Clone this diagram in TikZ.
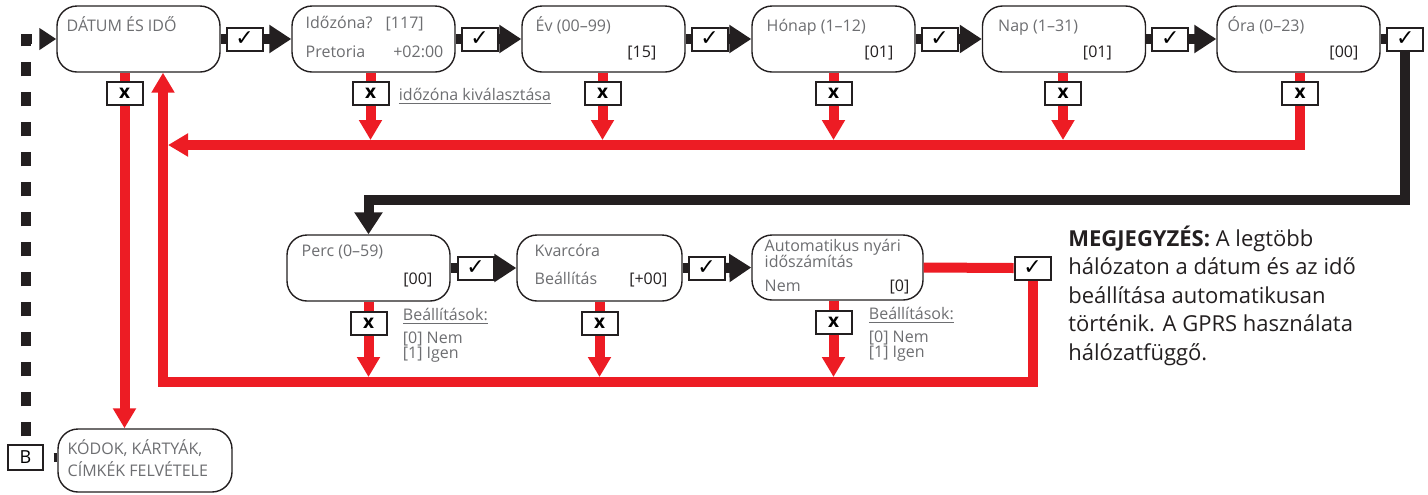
\documentclass[tikz,border=0pt]{standalone}
\usepackage{fontspec}
\setmainfont{Open Sans}
\newfontfamily\checkfont{DejaVu Sans}
\usetikzlibrary{shapes}
\usetikzlibrary{arrows.meta}
\usetikzlibrary{calc}
\definecolor{flow red}{HTML}{ED1C24}
\definecolor{flow black}{HTML}{231F20}
\definecolor{label gray}{HTML}{6D6E71}
\tikzset{
  menu box/.style = {draw = flow black, line width = 0.7pt, rounded corners = 10pt,
    fill = white, minimum width = 81.5pt, minimum height = 33pt, inner sep = 0pt},
  title text/.style = {anchor = base west, inner sep = 0pt, text = label gray,
    font = \fontsize{8}{9}\selectfont},
  value text/.style = {anchor = base east, inner sep = 0pt, text = flow black,
    font = \fontsize{8}{9}\selectfont},
  key box/.style = {draw = flow black, line width = 1pt, fill = white,
    minimum width = 18pt, minimum height = 11.5pt, inner sep = 0pt},
  ok box/.style = {key box, font = \checkfont\fontsize{11}{11}\selectfont},
  no box/.style = {key box, font = \bfseries\fontsize{9.5}{9.5}\selectfont},
  black line/.style = {draw = flow black, line width = 5pt},
  red line/.style = {draw = flow red, line width = 5pt},
  black arrow/.style = {black line, -{Triangle[width = 13.5pt, length = 11pt]}},
  red arrow/.style = {red line, -{Triangle[width = 11pt, length = 10pt]}},
}

\begin{document}
\begin{tikzpicture}[x = 0.5pt, y = -0.5pt]
  \useasboundingbox (0, 0) rectangle (1428, 494);

  % menu boxes
  \node[menu box] (datum) at (138.5, 39) {};
  \node[menu box] (idozona) at (373.5, 39) {};
  \node[menu box] (ev) at (603.5, 39) {};
  \node[menu box] (honap) at (833.5, 39) {};
  \node[menu box] (nap) at (1064, 39) {};
  \node[menu box] (ora) at (1298.5, 39) {};
  \node[menu box] (perc) at (368.5, 268) {};
  \node[menu box, minimum width = 82.5pt] (kvarc) at (599.5, 268) {};
  \node[menu box, minimum width = 85.5pt, minimum height = 32.5pt] (nyari) at (837.5, 267.5) {};
  \node[menu box, minimum width = 87pt, minimum height = 31.5pt] (kodok) at (145, 460.5) {};
  \node[key box, minimum width = 17.5pt, minimum height = 12.5pt, line width = 0.7pt,
    font = \fontsize{9}{9}\selectfont] (b-box) at (25.5, 457.5) {B};

  % texts in the boxes
  \node[title text] (datum-t) at ($(datum.north west) + (10, 26)$) {DÁTUM ÉS IDŐ};
  \node[title text] (idozona-t) at ($(idozona.north west) + (14, 23)$) {Időzóna?};
  \node[title text] (idozona-k) at ($(idozona.north west) + (94, 23)$) {[117]};
  \node[title text] (idozona-v) at ($(idozona.north west) + (14, 52)$) {Pretoria};
  \node[title text, anchor = base east] (idozona-o) at ($(idozona.north east) + (-12, 52)$) {+02:00};
  \node[title text] (ev-t) at ($(ev.north west) + (14, 26)$) {Év (00–99)};
  \node[value text] (ev-v) at ($(ev.north east) + (-29, 52)$) {[15]};
  \node[title text] (honap-t) at ($(honap.north west) + (15, 26)$) {Hónap (1–12)};
  \node[value text] (honap-v) at ($(honap.north east) + (-22, 52)$) {[01]};
  \node[title text] (nap-t) at ($(nap.north west) + (16, 26)$) {Nap (1–31)};
  \node[value text] (nap-v) at ($(nap.north east) + (-34, 52)$) {[01]};
  \node[title text] (ora-t) at ($(ora.north west) + (11, 26)$) {Óra (0–23)};
  \node[value text] (ora-v) at ($(ora.north east) + (-22, 52)$) {[00]};
  \node[title text] (perc-t) at ($(perc.north west) + (15, 22)$) {Perc (0–59)};
  \node[value text] (perc-v) at ($(perc.north east) + (-18, 50)$) {[00]};
  \node[title text] (kvarc-t) at ($(kvarc.north west) + (18, 22)$) {Kvarcóra};
  \node[title text] (kvarc-b) at ($(kvarc.north west) + (18, 50)$) {Beállítás};
  \node[value text] (kvarc-v) at ($(kvarc.north east) + (-15, 50)$) {[+00]};
  \node[title text] (nyari-t) at ($(nyari.north west) + (13, 17)$) {Automatikus nyári};
  \node[title text] (nyari-s) at ($(nyari.north west) + (13, 33)$) {időszámítás};
  \node[title text] (nyari-n) at ($(nyari.north west) + (13, 57)$) {Nem};
  \node[value text] (nyari-v) at ($(nyari.north east) + (-14, 57)$) {[0]};
  \node[title text] (kodok-t) at ($(kodok.north west) + (10, 26)$) {KÓDOK, KÁRTYÁK,};
  \node[title text] (kodok-s) at ($(kodok.north west) + (10, 48)$) {CÍMKÉK FELVÉTELE};

  % check and cross keys
  \node[ok box] (datum-ok) at ($(datum.east) + (24, 0)$) {✓};
  \node[ok box] (idozona-ok) at ($(idozona.east) + (24, 0)$) {✓};
  \node[ok box] (ev-ok) at ($(ev.east) + (24, 0)$) {✓};
  \node[ok box] (honap-ok) at ($(honap.east) + (24, 0)$) {✓};
  \node[ok box] (nap-ok) at ($(nap.east) + (24, 0)$) {✓};
  \node[ok box] (ora-ok) at ($(ora.east) + (24.5, 0)$) {✓};
  \node[ok box] (perc-ok) at ($(perc.east) + (25, 0)$) {✓};
  \node[ok box] (kvarc-ok) at ($(kvarc.east) + (24, 0)$) {✓};
  \node[ok box] (nyari-ok) at ($(nyari.east) + (109, 0.5)$) {✓};
  \node[no box] (datum-no) at ($(datum.south) + (-14, 20.5)$) {x};
  \node[no box] (idozona-no) at ($(idozona.south) + (-3, 20.5)$) {x};
  \node[no box] (ev-no) at ($(ev.south) + (-1, 20.5)$) {x};
  \node[no box] (honap-no) at ($(honap.south) + (0, 20.5)$) {x};
  \node[no box] (nap-no) at ($(nap.south) + (-1, 20.5)$) {x};
  \node[no box] (ora-no) at ($(ora.south) + (1.5, 20.5)$) {x};
  \node[no box] (perc-no) at ($(perc.south) + (0, 22)$) {x};
  \node[no box] (kvarc-no) at ($(kvarc.south) + (0, 22)$) {x};
  \node[no box] (nyari-no) at ($(nyari.south) + (-4, 22)$) {x};

  \coordinate (top-hit) at (0, 140);
  \coordinate (top-back) at (168, 145);
  \coordinate (bottom-hit) at (0, 377);
  \coordinate (bottom-back) at (163, 382);
  \coordinate (wrap) at (0, 200);

  % red paths
  \draw[red arrow] (ora-no.south) |- (top-back);
  \draw[red line] (ora.south -| ora-no) -- (ora-no.north);
  \draw[red line] (idozona.south -| idozona-no) -- (idozona-no.north);
  \draw[red arrow] (idozona-no.south) -- (idozona-no.south |- top-hit);
  \draw[red line] (ev.south -| ev-no) -- (ev-no.north);
  \draw[red arrow] (ev-no.south) -- (ev-no.south |- top-hit);
  \draw[red line] (honap.south -| honap-no) -- (honap-no.north);
  \draw[red arrow] (honap-no.south) -- (honap-no.south |- top-hit);
  \draw[red line] (nap.south -| nap-no) -- (nap-no.north);
  \draw[red arrow] (nap-no.south) -- (nap-no.south |- top-hit);
  \draw[red line] (datum.south -| datum-no) -- (datum-no.north);
  \draw[red arrow] (datum-no.south) -- (datum-no.south |- kodok.north);
  \draw[red line] (nyari.east) -- (nyari-ok.west);
  \draw[red arrow] (nyari-ok.south) |- (bottom-back) -- (datum.south -| bottom-back);
  \draw[red line] (perc.south -| perc-no) -- (perc-no.north);
  \draw[red arrow] (perc-no.south) -- (perc-no.south |- bottom-hit);
  \draw[red line] (kvarc.south -| kvarc-no) -- (kvarc-no.north);
  \draw[red arrow] (kvarc-no.south) -- (kvarc-no.south |- bottom-hit);
  \draw[red line] (nyari.south -| nyari-no) -- (nyari-no.north);
  \draw[red arrow] (nyari-no.south) -- (nyari-no.south |- bottom-hit);

  % black paths
  \draw[black line] (datum.east) -- (datum-ok.west);
  \draw[black arrow] (datum-ok.east) -- (idozona.west);
  \draw[black line] (idozona.east) -- (idozona-ok.west);
  \draw[black arrow] (idozona-ok.east) -- (ev.west);
  \draw[black line] (ev.east) -- (ev-ok.west);
  \draw[black arrow] (ev-ok.east) -- (honap.west);
  \draw[black line] (honap.east) -- (honap-ok.west);
  \draw[black arrow] (honap-ok.east) -- (nap.west);
  \draw[black line] (nap.east) -- (nap-ok.west);
  \draw[black arrow] (nap-ok.east) -- (ora.west);
  \draw[black line] (ora.east) -- (ora-ok.west);
  \draw[black arrow] (ora-ok.south) -- (ora-ok.south |- wrap) -| (perc.north);
  \draw[black line] (perc.east) -- (perc-ok.west);
  \draw[black arrow] (perc-ok.east) -- (kvarc.west);
  \draw[black line] (kvarc.east) -- (kvarc-ok.west);
  \draw[black arrow] (kvarc-ok.east) -- (nyari.west);
  \draw[black line, dash pattern = on 7pt off 8pt, dash phase = 11pt,
    -{Triangle[width = 10.5pt, length = 8.5pt]}] %
    (b-box.north) -- (b-box.north |- datum.west) -- (datum.west);
  \draw[black line, line width = 4.5pt, shorten <= 5pt] (b-box.east) -- (b-box.east -| kodok.west);

  % notes
  \node[title text] (idozona-note) at ($(idozona-no.east) + (9, 7.5)$) {\underline{időzóna kiválasztása}};
  \node[title text] (perc-note) at ($(perc-no.east) + (15, -3)$) {\underline{Beállítások:}};
  \node[title text] (perc-nem) at ($(perc-no.east) + (15, 20)$) {[0] Nem};
  \node[title text] (perc-igen) at ($(perc-no.east) + (15, 35)$) {[1] Igen};
  \node[title text] (nyari-note) at ($(nyari-no.east) + (16, -3)$) {\underline{Beállítások:}};
  \node[title text] (nyari-nem) at ($(nyari-no.east) + (16, 20)$) {[0] Nem};
  \node[title text] (nyari-igen) at ($(nyari-no.east) + (16, 35)$) {[1] Igen};
  \node[anchor = base west, inner sep = 0pt, align = left, text = flow black,
    font = \fontsize{11}{14.2}\selectfont] (megjegyzes) at (1068, 360) {%
      \textbf{MEGJEGYZÉS:} A legtöbb\\
      hálózaton a dátum és az idő\\
      beállítása automatikusan\\
      történik. A GPRS használata\\
      hálózatfüggő.
    };
\end{tikzpicture}
\end{document}
